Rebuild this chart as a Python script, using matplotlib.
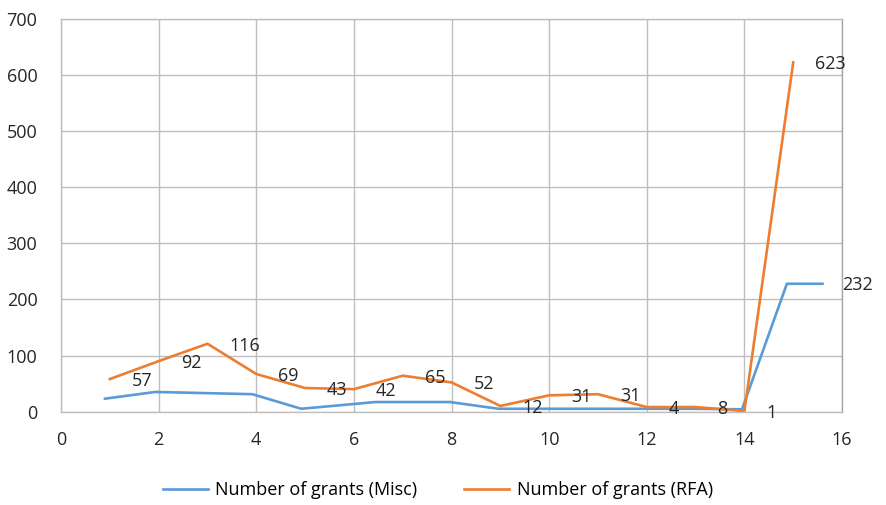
import numpy as np
import matplotlib.pyplot as plt

plt.rcParams['font.family'] = ['Open Sans', 'DejaVu Sans']

# Misc series (x, y)
misc_x = [0.9, 1.93, 3.92, 4.92, 6.44, 7.97, 8.96, 10, 11, 12, 13, 13.95, 14.87, 15.6]
misc_y = [23, 35, 31, 5, 17, 17, 5, 5, 5, 5, 5, 4, 228, 228]
misc_label = "232"

# RFA series
rfa_x = list(range(1, 16))
rfa_y = [58, 90, 121, 67, 42, 40, 64, 52, 10, 29, 31, 8, 8, 1, 623]
rfa_labels = ["57", "92", "116", "69", "43", "42", "65", "52", "12", "31", "31", "4", "8", "1", "623"]

x_ticks = np.arange(0, 17, 2)
y_ticks = np.arange(0, 701, 100)

blue = '#5B9BD5'
orange = '#ED7D31'
grid_c = '#BFBFBF'
txt = '#262626'

fig = plt.figure(figsize=(8.86, 5.05), dpi=100)
ax = fig.add_axes([0.0689, 0.185, 0.8815, 0.777])

ax.plot(misc_x, misc_y, color=blue, lw=1.9, label='Number of grants (Misc)', clip_on=False)
ax.plot(rfa_x, rfa_y, color=orange, lw=1.9, label='Number of grants (RFA)', clip_on=False)

for x, y, t in zip(rfa_x, rfa_y, rfa_labels):
    ax.annotate(t, (x, y), xytext=(22, -2), textcoords='offset pixels',
                ha='left', va='center', fontsize=13, color=txt,
                annotation_clip=False)
ax.annotate(misc_label, (misc_x[-1], misc_y[-1]), xytext=(20, -1), textcoords='offset pixels',
            ha='left', va='center', fontsize=13, color=txt, annotation_clip=False)

ax.set_xlim(0, 16)
ax.set_ylim(0, 700)
ax.set_xticks(x_ticks)
ax.set_yticks(y_ticks)
ax.grid(True, color=grid_c, lw=1.0)
ax.set_axisbelow(True)
ax.tick_params(length=0, labelsize=13, colors=txt)
ax.tick_params(axis='x', pad=14)
ax.tick_params(axis='y', pad=17)
for s in ax.spines.values():
    s.set_color(grid_c)
    s.set_linewidth(1.0)
ax.spines['right'].set_color('#A6A6A6')

fig.legend(loc='center', bbox_to_anchor=(0.494, 0.03), ncol=2, frameon=False,
           fontsize=13, handlelength=2.5, columnspacing=2.6, handletextpad=0.4)

fig.savefig('out.png', dpi=100)
